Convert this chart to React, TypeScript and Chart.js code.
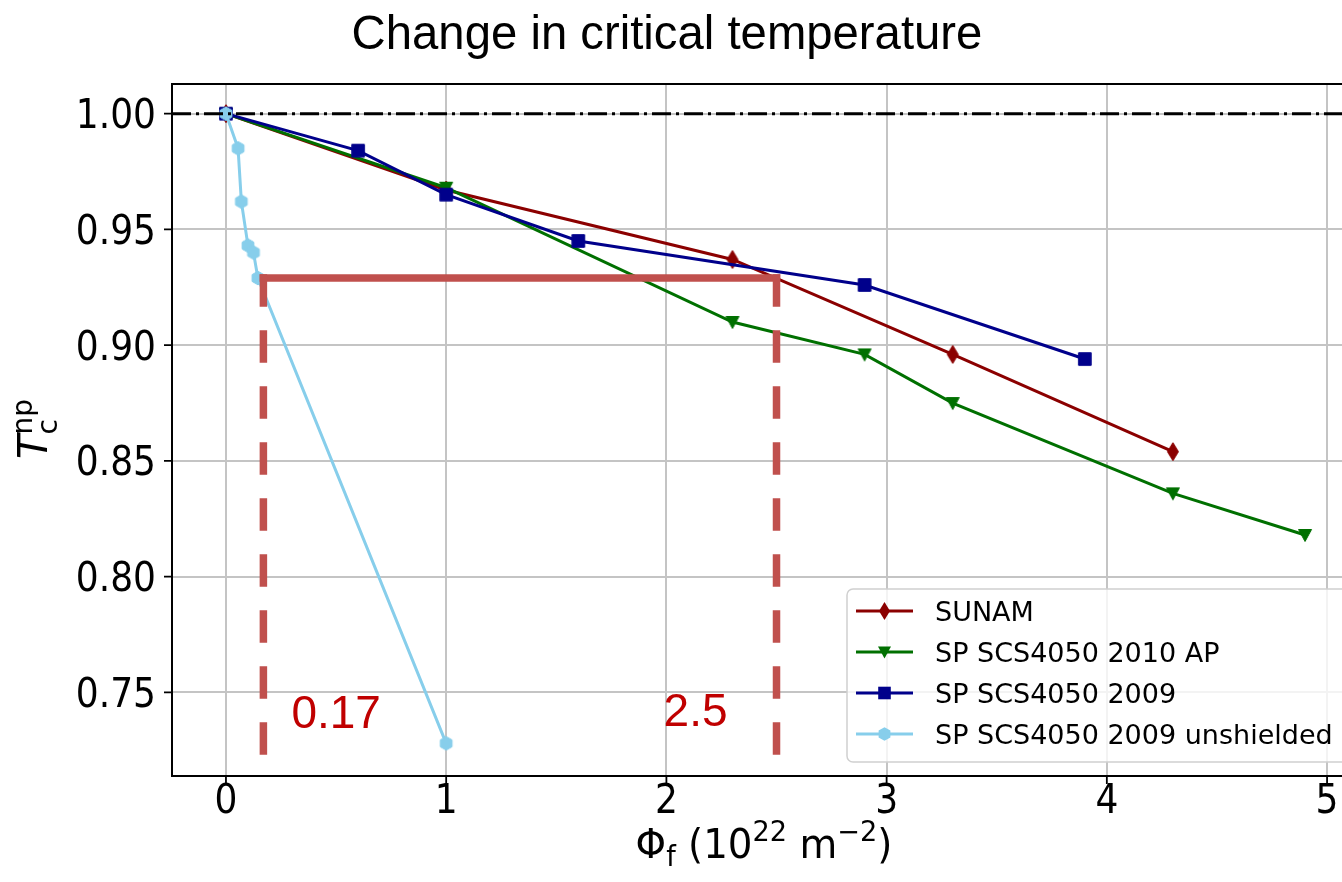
import React, { useEffect, useRef } from 'react';
import { Chart, registerables } from 'chart.js';

Chart.register(...registerables);

// ---------------- data ----------------
const xTicks = [0, 1, 2, 3, 4, 5];
const yTicks = [0.75, 0.8, 0.85, 0.9, 0.95, 1.0];

const sunamX = [0, 1, 2.3, 3.3, 4.3];
const sunamY = [1.0, 0.967, 0.937, 0.896, 0.854];

const ap2010X = [0, 1, 2.3, 2.9, 3.3, 4.3, 4.9];
const ap2010Y = [1.0, 0.968, 0.91, 0.896, 0.875, 0.836, 0.818];

const s2009X = [0, 0.6, 1, 1.6, 2.9, 3.9];
const s2009Y = [1.0, 0.984, 0.965, 0.945, 0.926, 0.894];

const unshX = [0, 0.055, 0.07, 0.1, 0.125, 0.145, 1];
const unshY = [1.0, 0.985, 0.962, 0.943, 0.94, 0.929, 0.728];

const seriesLabels = ['SUNAM', 'SP SCS4050 2010 AP', 'SP SCS4050 2009', 'SP SCS4050 2009 unshielded'];
const referenceLevel = 1.0;
const annotX = [0.17, 2.5];
const annotLabels = ['0.17', '2.5'];
const annotLevel = 0.929;
const annotBottom = 0.7215;

const X_MIN = -0.245;
const X_MAX = 5.145;
const Y_MIN = 0.7139;
const Y_MAX = 1.0128;

// ---------------- styles ----------------
const COLORS = ['#8b0000', '#007000', '#00008b', '#87ceeb'];
const KINDS = ['diamond', 'tri', 'square', 'hex'];
const ANNOT_COLOR = '#c0504d';
const ANNOT_TEXT = '#c00000';
const GRID = '#c4c4c4';

function tracePath(ctx: CanvasRenderingContext2D, kind: string, cx: number, cy: number) {
  ctx.beginPath();
  if (kind === 'diamond') {
    ctx.moveTo(cx, cy - 9);
    ctx.lineTo(cx + 5.5, cy);
    ctx.lineTo(cx, cy + 9);
    ctx.lineTo(cx - 5.5, cy);
  } else if (kind === 'tri') {
    ctx.moveTo(cx - 6.5, cy - 5.5);
    ctx.lineTo(cx + 6.5, cy - 5.5);
    ctx.lineTo(cx, cy + 6.5);
  } else if (kind === 'square') {
    ctx.rect(cx - 6.3, cy - 6.3, 12.6, 12.6);
  } else {
    for (let i = 0; i < 6; i++) {
      const a = -Math.PI / 2 + (i * Math.PI) / 3;
      const px = cx + 6.8 * Math.cos(a);
      const py = cy + 6.8 * Math.sin(a);
      if (i === 0) ctx.moveTo(px, py);
      else ctx.lineTo(px, py);
    }
  }
  ctx.closePath();
}

function makeMarker(kind: string, color: string): HTMLCanvasElement {
  const c = document.createElement('canvas');
  c.width = 24;
  c.height = 24;
  const ctx = c.getContext('2d')!;
  tracePath(ctx, kind, 12, 12);
  ctx.fillStyle = color;
  ctx.fill();
  ctx.lineWidth = 1;
  ctx.strokeStyle = color;
  ctx.stroke();
  return c;
}

function drawScaled(
  ctx: CanvasRenderingContext2D,
  text: string,
  x: number,
  y: number,
  font: string,
  hs: number,
  align: CanvasTextAlign,
  baseline: CanvasTextBaseline,
  color: string
) {
  ctx.save();
  ctx.translate(x, y);
  ctx.scale(hs, 1);
  ctx.font = font;
  ctx.textAlign = align;
  ctx.textBaseline = baseline;
  ctx.fillStyle = color;
  ctx.fillText(text, 0, 0);
  ctx.restore();
}

type Piece = { t: string; font: string; dy: number; sameX?: boolean };

function drawPieces(ctx: CanvasRenderingContext2D, pieces: Piece[], hs: number) {
  const widths: number[] = [];
  pieces.forEach((p) => {
    ctx.font = p.font;
    widths.push(ctx.measureText(p.t).width);
  });
  let cursor = 0;
  let maxEnd = 0;
  const starts: number[] = [];
  pieces.forEach((p, i) => {
    if (p.sameX && i > 0) {
      starts.push(starts[i - 1]);
      cursor = Math.max(cursor, starts[i - 1] + widths[i]);
    } else {
      starts.push(cursor);
      cursor += widths[i];
    }
    maxEnd = Math.max(maxEnd, cursor);
  });
  const total = maxEnd;
  ctx.save();
  ctx.scale(hs, 1);
  ctx.textAlign = 'left';
  ctx.textBaseline = 'alphabetic';
  ctx.fillStyle = '#000';
  pieces.forEach((p, i) => {
    ctx.font = p.font;
    ctx.fillText(p.t, starts[i] - total / 2, p.dy);
  });
  ctx.restore();
}

const decoPlugin = {
  id: 'deco',
  afterDatasetsDraw(chart: any) {
    const ctx: CanvasRenderingContext2D = chart.ctx;
    const xs = chart.scales.x;
    const ys = chart.scales.y;
    const area = chart.chartArea;

    // horizontal reference dash-dot line
    ctx.save();
    ctx.beginPath();
    ctx.rect(area.left, area.top, area.right - area.left, area.bottom - area.top);
    ctx.clip();
    const yr = ys.getPixelForValue(referenceLevel);
    ctx.strokeStyle = '#000';
    ctx.lineWidth = 3;
    ctx.setLineDash([19, 5, 3, 5]);
    ctx.beginPath();
    ctx.moveTo(area.left, yr);
    ctx.lineTo(area.right, yr);
    ctx.stroke();
    ctx.restore();

    // annotation lines
    const yl = ys.getPixelForValue(annotLevel);
    const yb = ys.getPixelForValue(annotBottom);
    const xa = xs.getPixelForValue(annotX[0]);
    const xb = xs.getPixelForValue(annotX[1]);
    ctx.save();
    ctx.strokeStyle = ANNOT_COLOR;
    ctx.lineWidth = 7.5;
    ctx.lineCap = 'butt';
    ctx.beginPath();
    ctx.moveTo(xa - 3.75, yl);
    ctx.lineTo(xb + 3.75, yl);
    ctx.stroke();
    ctx.setLineDash([32.5, 23.5]);
    [xa, xb].forEach((xp) => {
      ctx.beginPath();
      ctx.moveTo(xp, yl - 3.75);
      ctx.lineTo(xp, yb);
      ctx.stroke();
    });
    ctx.restore();

    // annotation texts
    const font = '46px "Liberation Sans", Arial, sans-serif';
    drawScaled(ctx, annotLabels[0], xa + 28, 728, font, 1, 'left', 'alphabetic', ANNOT_TEXT);
    drawScaled(ctx, annotLabels[1], xb - 49, 726, font, 1, 'right', 'alphabetic', ANNOT_TEXT);
  },
  afterDraw(chart: any) {
    const ctx: CanvasRenderingContext2D = chart.ctx;
    const xs = chart.scales.x;
    const ys = chart.scales.y;
    const area = chart.chartArea;

    // legend
    const lx = 847;
    const ly = 589;
    const lw = 503;
    const lh = 173;
    ctx.save();
    ctx.beginPath();
    const r = 6;
    ctx.moveTo(lx + r, ly);
    ctx.lineTo(lx + lw - r, ly);
    ctx.arcTo(lx + lw, ly, lx + lw, ly + r, r);
    ctx.lineTo(lx + lw, ly + lh - r);
    ctx.arcTo(lx + lw, ly + lh, lx + lw - r, ly + lh, r);
    ctx.lineTo(lx + r, ly + lh);
    ctx.arcTo(lx, ly + lh, lx, ly + lh - r, r);
    ctx.lineTo(lx, ly + r);
    ctx.arcTo(lx, ly, lx + r, ly, r);
    ctx.closePath();
    ctx.fillStyle = 'rgba(255,255,255,0.8)';
    ctx.fill();
    ctx.strokeStyle = '#d0d0d0';
    ctx.lineWidth = 1.5;
    ctx.stroke();
    ctx.restore();

    seriesLabels.forEach((lab, i) => {
      const cy = 611 + i * 41;
      ctx.save();
      ctx.strokeStyle = COLORS[i];
      ctx.lineWidth = 3;
      ctx.beginPath();
      ctx.moveTo(856, cy);
      ctx.lineTo(913, cy);
      ctx.stroke();
      tracePath(ctx, KINDS[i], 884.5, cy);
      ctx.fillStyle = COLORS[i];
      ctx.fill();
      ctx.restore();
      drawScaled(ctx, lab, 935, cy + 10, '27px "DejaVu Sans"', 1, 'left', 'alphabetic', '#000');
    });

    // frame
    ctx.save();
    ctx.strokeStyle = '#000';
    ctx.lineWidth = 2;
    ctx.strokeRect(area.left, area.top, area.right - area.left, area.bottom - area.top);
    ctx.beginPath();
    xTicks.forEach((v) => {
      const p = xs.getPixelForValue(v);
      ctx.moveTo(p, area.bottom);
      ctx.lineTo(p, area.bottom + 8);
    });
    yTicks.forEach((v) => {
      const p = ys.getPixelForValue(v);
      ctx.moveTo(area.left, p);
      ctx.lineTo(area.left - 8, p);
    });
    ctx.lineWidth = 1.8;
    ctx.stroke();
    ctx.restore();

    const tickFont = '40px "DejaVu Sans"';
    const hs = 0.9;
    xTicks.forEach((v) => {
      drawScaled(ctx, String(v), xs.getPixelForValue(v), area.bottom + 37, tickFont, hs, 'center', 'alphabetic', '#000');
    });
    yTicks.forEach((v) => {
      drawScaled(ctx, v.toFixed(2), area.left - 16, ys.getPixelForValue(v) + 14.5, tickFont, hs, 'right', 'alphabetic', '#000');
    });

    // x axis title
    const big = '40px "DejaVu Sans"';
    const small = '28px "DejaVu Sans"';
    ctx.save();
    ctx.translate(764, 858);
    drawPieces(
      ctx,
      [
        { t: 'Φ', font: big, dy: 0 },
        { t: 'f', font: small, dy: 8 },
        { t: ' (10', font: big, dy: 0 },
        { t: '22', font: small, dy: -17 },
        { t: ' m', font: big, dy: 0 },
        { t: '−2', font: small, dy: -17 },
        { t: ')', font: big, dy: 0 },
      ],
      0.97
    );
    ctx.restore();

    // y axis title
    ctx.save();
    ctx.translate(47, 429);
    ctx.rotate(-Math.PI / 2);
    drawPieces(
      ctx,
      [
        { t: 'T', font: 'italic 40px "DejaVu Sans"', dy: 0 },
        { t: 'c', font: small, dy: 10 },
        { t: 'np', font: small, dy: -15, sameX: true },
      ],
      1
    );
    ctx.restore();

    // title
    drawScaled(ctx, 'Change in critical temperature', 667, 48.5, '49px "Liberation Sans", Arial, sans-serif', 0.965, 'center', 'alphabetic', '#000');
  },
};

export default function App() {
  const ref = useRef<HTMLCanvasElement | null>(null);
  useEffect(() => {
    if (!ref.current) return;
    const xsArr = [sunamX, ap2010X, s2009X, unshX];
    const ysArr = [sunamY, ap2010Y, s2009Y, unshY];
    const datasets = seriesLabels.map((label, i) => ({
      label,
      data: xsArr[i].map((x, j) => ({ x, y: ysArr[i][j] })),
      borderColor: COLORS[i],
      backgroundColor: COLORS[i],
      borderWidth: 3,
      pointStyle: makeMarker(KINDS[i], COLORS[i]),
      pointRadius: 7,
      pointHoverRadius: 7,
      fill: false,
      tension: 0,
      order: 3 - i,
    }));
    const chart = new Chart(ref.current, {
      type: 'line',
      data: { datasets },
      options: {
        responsive: false,
        animation: false,
        devicePixelRatio: 1,
        events: [],
        layout: { padding: { top: 84, right: 41, left: 0, bottom: 0 } },
        plugins: {
          legend: { display: false },
          title: { display: false },
          tooltip: { enabled: false },
        },
        scales: {
          x: {
            type: 'linear',
            min: X_MIN,
            max: X_MAX,
            afterBuildTicks: (s: any) => {
              s.ticks = xTicks.map((v) => ({ value: v }));
            },
            afterFit: (s: any) => {
              s.height = 106;
            },
            ticks: { display: false },
            grid: { color: GRID, lineWidth: 2, drawTicks: false },
            border: { display: false },
          },
          y: {
            type: 'linear',
            min: Y_MIN,
            max: Y_MAX,
            afterBuildTicks: (s: any) => {
              s.ticks = yTicks.map((v) => ({ value: v }));
            },
            afterFit: (s: any) => {
              s.width = 172;
            },
            ticks: { display: false },
            grid: { color: GRID, lineWidth: 2, drawTicks: false },
            border: { display: false },
          },
        },
      } as any,
      plugins: [decoPlugin],
    });
    return () => chart.destroy();
  }, []);
  return (
    <div
      style={{
        position: 'fixed',
        left: 0,
        top: 0,
        width: 1342,
        height: 882,
        overflow: 'hidden',
        background: '#fff',
      }}
    >
      <canvas ref={ref} width={1400} height={882} style={{ display: 'block', width: 1400, height: 882 }} />
    </div>
  );
}
